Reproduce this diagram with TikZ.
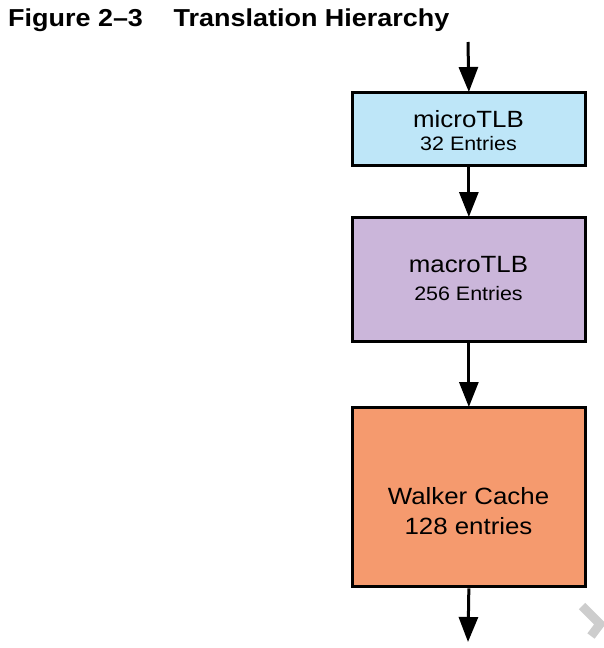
\documentclass[tikz,border=0pt]{standalone}
\usepackage{fontspec}
\setmainfont[FakeStretch=1.1]{Liberation Sans}
\usetikzlibrary{arrows.meta}
\definecolor{microblue}{RGB}{190,230,248}
\definecolor{macropurple}{RGB}{203,182,218}
\definecolor{walkerorange}{RGB}{245,154,110}
\definecolor{markgrey}{RGB}{205,205,205}
\tikzset{
  blockbox/.style={draw=black, line width=3pt, inner sep=0pt, minimum width=232.7pt},
  bigtxt/.style={anchor=base, inner sep=0pt, font=\fontsize{23.5}{26}\selectfont},
  smalltxt/.style={anchor=base, inner sep=0pt, font=\fontsize{19.5}{22}\selectfont},
  flow/.style={line width=3pt, -{Triangle[length=25pt,width=19pt]}, shorten >=-1pt},
  titletxt/.style={anchor=base west, inner sep=0pt, font=\fontsize{24.5}{28}\selectfont\bfseries}
}
\begin{document}
\begin{tikzpicture}[x=1pt,y=-1pt]
\useasboundingbox (0,0) rectangle (604,648);
% title
\node[titletxt] (fig) at (8,26.7) {Figure 2–3};
\node[titletxt] (ttl) at (173.5,26.7) {Translation Hierarchy};
% boxes
\node[blockbox, fill=microblue, minimum height=73pt] (micro) at (468.85,129) {};
\node[blockbox, fill=macropurple, minimum height=124.2pt] (macro) at (468.85,279.6) {};
\node[blockbox, fill=walkerorange, minimum height=179.3pt] (walker) at (468.85,497.15) {};
% texts
\node[bigtxt] (microA) at (468.5,127.3) {microTLB};
\node[smalltxt] (microB) at (468.5,150) {32 Entries};
\node[bigtxt] (macroA) at (468.5,272.7) {macroTLB};
\node[smalltxt] (macroB) at (468.5,300.7) {256 Entries};
\node[bigtxt] (walkA) at (468.5,504.3) {Walker Cache};
\node[bigtxt] (walkB) at (468.5,534) {128 entries};
% connectors
\coordinate (in) at (468,42);
\coordinate (out) at (468,642);
\draw[flow] (in) -- (micro.north);
\draw[flow] (micro.south) -- (macro.north);
\draw[flow] (macro.south) -- (walker.north);
\draw[flow, shorten >=0pt] (walker.south) -- (out);
% grey mark
\draw[markgrey, line width=9pt, line join=miter] (582,606) -- (600,624) -- (591,636);
\end{tikzpicture}
\end{document}
